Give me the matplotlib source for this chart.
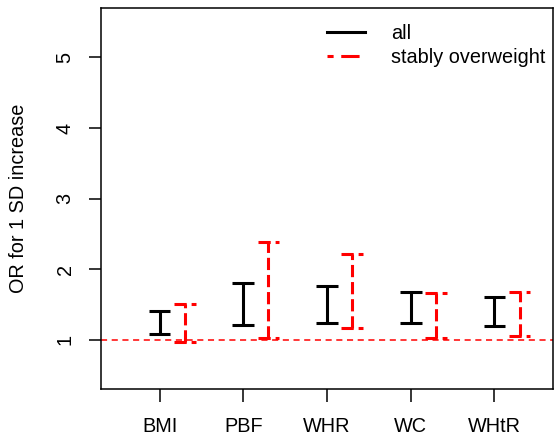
import matplotlib.pyplot as plt
import numpy as np

plt.rcParams['font.family'] = ['Liberation Sans', 'DejaVu Sans']

measures = ["BMI", "PBF", "WHR", "WC", "WHtR"]
# odds ratio CI per 1 SD increase
all_lo = [1.08, 1.21, 1.23, 1.23, 1.19]
all_hi = [1.41, 1.80, 1.76, 1.67, 1.60]
ow_lo = [0.97, 1.02, 1.17, 1.02, 1.05]
ow_hi = [1.51, 2.38, 2.21, 1.66, 1.68]

x = np.arange(1, len(measures) + 1)
cap = 0.13
off = 0.3
fs = 14.3

fig = plt.figure(figsize=(5.55, 4.36), dpi=100)
ax = fig.add_axes([101/555, 47/436, 452/555, 381/436])

ax.axhline(1, color='red', lw=1.1, dashes=(4, 3), zorder=1)

# all
ax.vlines(x, all_lo, all_hi, color='black', lw=2.2)
ax.hlines(all_lo, x - cap, x + cap, color='black', lw=2.2)
ax.hlines(all_hi, x - cap, x + cap, color='black', lw=2.2)

# stably overweight
xr = x + off
dsh = (4, 1.6)
ax.vlines(xr, ow_lo, ow_hi, color='red', lw=2.2, linestyles=[(0, dsh)])
ax.hlines(ow_lo, xr - cap, xr + cap, color='red', lw=2.2, linestyles=[(0, dsh)])
ax.hlines(ow_hi, xr - cap, xr + cap, color='red', lw=2.2, linestyles=[(0, dsh)])

ax.plot([], [], color='black', lw=2.2, label='all')
ax.plot([], [], color='red', lw=2.2, dashes=(2, 2.5, 6, 2.5), label='stably overweight')
ax.legend(loc='upper right', bbox_to_anchor=(1.022, 1.004), frameon=False,
          fontsize=fs, handlelength=1.9, handletextpad=1.3, labelspacing=0.25)

ax.set_xlim(0.3, 5.7)
ax.set_ylim(0.3, 5.7)
ax.set_xticks(x)
ax.set_xticklabels(measures)
ax.set_yticks([1, 2, 3, 4, 5])
ax.set_yticklabels(['1', '2', '3', '4', '5'], rotation=90, va='center')
ax.tick_params(labelsize=fs, length=9, width=1.1, pad=11)
ax.tick_params(axis='y', pad=10)
for s in ax.spines.values():
    s.set_linewidth(1.1)
ax.set_ylabel('OR for 1 SD increase', fontsize=fs, labelpad=20)

fig.savefig('out.png', dpi=100)
